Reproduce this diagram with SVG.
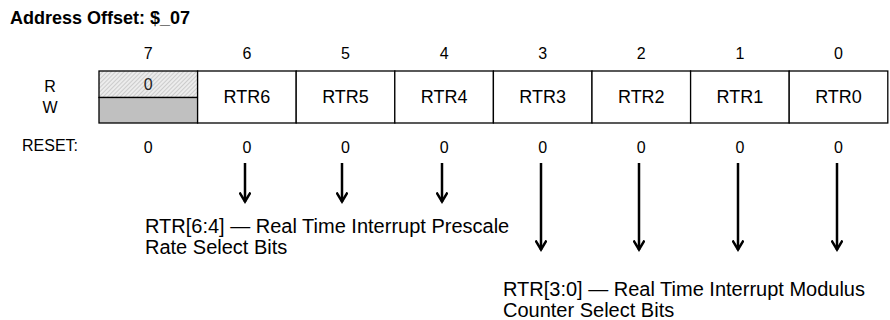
<svg xmlns="http://www.w3.org/2000/svg" width="890" height="320" viewBox="0 0 890 320">
<style>
text{font-family:"Liberation Sans",Arial,Helvetica,sans-serif;fill:#000}
.n{font-size:16px;text-anchor:middle}
.c{font-size:18px;text-anchor:middle}
.d{font-size:20px}
.cell{fill:#fff;stroke:#000;stroke-width:1.3}
.ar{stroke:#000;stroke-width:2.5;fill:none}
</style>
<defs>
<pattern id="hatch" width="3" height="3" patternUnits="userSpaceOnUse" patternTransform="rotate(45)">
<rect width="3" height="3" fill="#ececec"/>
<line x1="0" y1="0" x2="0" y2="3" stroke="#9a9a9a" stroke-width="0.8"/>
</pattern>
<marker id="ah" viewBox="0 0 12 12" refX="10.5" refY="6" markerWidth="12" markerHeight="12" markerUnits="userSpaceOnUse" orient="auto">
<path d="M1,0.5 L10,6 L1,11.5" fill="none" stroke="#000" stroke-width="2.5" stroke-linejoin="miter"/>
</marker>
</defs>
<text x="10" y="24" style="font-size:18px;font-weight:bold">Address Offset: $_07</text>
<g id="bitnums">
<text class="n" x="148.3" y="59">7</text>
<text class="n" x="246.9" y="59">6</text>
<text class="n" x="345.5" y="59">5</text>
<text class="n" x="444.1" y="59">4</text>
<text class="n" x="542.7" y="59">3</text>
<text class="n" x="641.3" y="59">2</text>
<text class="n" x="739.9" y="59">1</text>
<text class="n" x="838.5" y="59">0</text>
</g>
<text class="n" x="50" y="92">R</text>
<text class="n" x="50" y="113">W</text>
<text x="22" y="151" style="font-size:16px">RESET:</text>
<g id="bit7">
<rect x="99" y="71" width="98.6" height="26.5" fill="url(#hatch)" stroke="#000" stroke-width="1.3"/>
<rect x="99" y="97.5" width="98.6" height="25.5" fill="#c0c0c0" stroke="#000" stroke-width="1.3"/>
<text class="n" x="148.3" y="90" style="fill:#222">0</text>
</g>
<g id="bit6"><rect class="cell" x="197.6" y="71" width="98.6" height="52"/><text class="c" x="246.9" y="103">RTR6</text></g>
<g id="bit5"><rect class="cell" x="296.2" y="71" width="98.6" height="52"/><text class="c" x="345.5" y="103">RTR5</text></g>
<g id="bit4"><rect class="cell" x="394.8" y="71" width="98.6" height="52"/><text class="c" x="444.1" y="103">RTR4</text></g>
<g id="bit3"><rect class="cell" x="493.4" y="71" width="98.6" height="52"/><text class="c" x="542.7" y="103">RTR3</text></g>
<g id="bit2"><rect class="cell" x="592" y="71" width="98.6" height="52"/><text class="c" x="641.3" y="103">RTR2</text></g>
<g id="bit1"><rect class="cell" x="690.6" y="71" width="98.6" height="52"/><text class="c" x="739.9" y="103">RTR1</text></g>
<g id="bit0"><rect class="cell" x="789.2" y="71" width="98.6" height="52"/><text class="c" x="838.5" y="103">RTR0</text></g>
<g id="reset">
<text class="n" x="148.3" y="153">0</text>
<text class="n" x="246.9" y="153">0</text>
<text class="n" x="345.5" y="153">0</text>
<text class="n" x="444.1" y="153">0</text>
<text class="n" x="542.7" y="153">0</text>
<text class="n" x="641.3" y="153">0</text>
<text class="n" x="739.9" y="153">0</text>
<text class="n" x="838.5" y="153">0</text>
</g>
<g id="connectors">
<line class="ar" x1="245" y1="163" x2="245" y2="202" marker-end="url(#ah)"/>
<line class="ar" x1="342" y1="163" x2="342" y2="202" marker-end="url(#ah)"/>
<line class="ar" x1="442" y1="163" x2="442" y2="202" marker-end="url(#ah)"/>
<line class="ar" x1="541" y1="163" x2="541" y2="250" marker-end="url(#ah)"/>
<line class="ar" x1="639" y1="163" x2="639" y2="250" marker-end="url(#ah)"/>
<line class="ar" x1="738" y1="163" x2="738" y2="250" marker-end="url(#ah)"/>
<line class="ar" x1="837" y1="163" x2="837" y2="250" marker-end="url(#ah)"/>
</g>
<g id="label-hi">
<text class="d" x="145" y="233">RTR[6:4] — Real Time Interrupt Prescale</text>
<text class="d" x="145" y="254">Rate Select Bits</text>
</g>
<g id="label-lo">
<text class="d" x="503" y="296">RTR[3:0] — Real Time Interrupt Modulus</text>
<text class="d" x="503" y="317">Counter Select Bits</text>
</g>
</svg>
